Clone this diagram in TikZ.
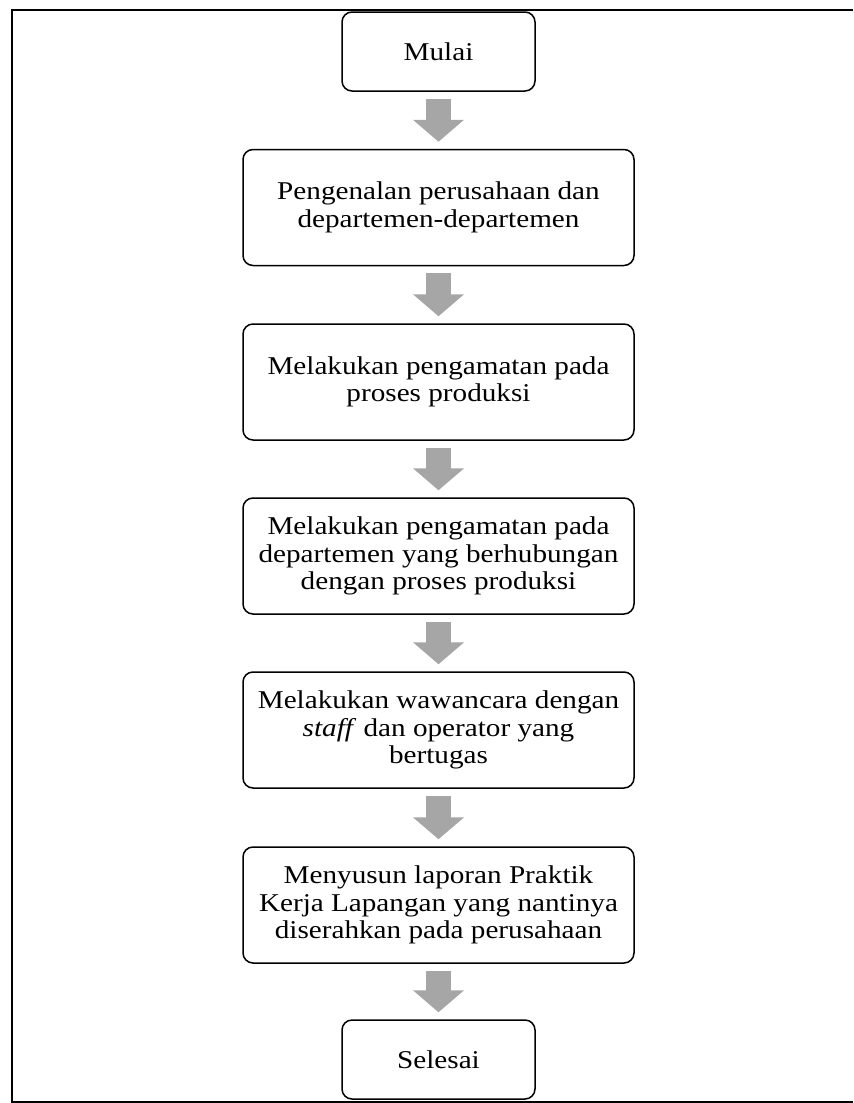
\documentclass[tikz,border=0pt]{standalone}
\usepackage{fontspec}
\setmainfont{Liberation Serif}[FakeStretch=1.14]
\usetikzlibrary{arrows.meta}
\definecolor{arrowgray}{RGB}{166,166,166}
\tikzset{
    mybox/.style = {rectangle, rounded corners=5pt, line width=0.75pt, draw=black, align=center, minimum width=96.5pt, minimum height=39.5pt, inner sep=2pt, font=\fontsize{12.8pt}{13.7pt}\selectfont},
    mybigbox/.style = {mybox, minimum width=195.5pt, minimum height=58pt},
    edgeg/.style = {-{Triangle[length=11pt,width=25pt]}, line width=12.5pt, draw=arrowgray, shorten <=3.5pt, shorten >=3.5pt},
    pageframe/.style = {line width=0.7pt, draw=black}
}

\begin{document}
\begin{tikzpicture}[x=0.5pt,y=-0.5pt]
\useasboundingbox (0,0) rectangle (853,1103);
\draw[pageframe] (853,10) -- (12,10) -- (12,1102) -- (853,1102);

\node[mybox] at (438.5, 51.5) (mulai) {Mulai};
\node[mybigbox] at (438.5, 207.5) (kenal) {Pengenalan perusahaan dan\\departemen-departemen};
\node[mybigbox] at (438.5, 382) (amati) {Melakukan pengamatan pada\\proses produksi};
\node[mybigbox] at (438.5, 556) (dept) {Melakukan pengamatan pada\\departemen yang berhubungan\\dengan proses produksi};
\node[mybigbox] at (438.5, 730) (wawancara) {Melakukan wawancara dengan\\\textit{staff} dan operator yang\\bertugas};
\node[mybigbox] at (438.5, 905) (laporan) {Menyusun laporan Praktik\\Kerja Lapangan yang nantinya\\diserahkan pada perusahaan};
\node[mybox] at (438.5, 1059.5) (selesai) {Selesai};
%
\draw[edgeg] (mulai) -- (kenal);
\draw[edgeg] (kenal) -- (amati);
\draw[edgeg] (amati) -- (dept);
\draw[edgeg] (dept) -- (wawancara);
\draw[edgeg] (wawancara) -- (laporan);
\draw[edgeg] (laporan) -- (selesai);

\end{tikzpicture}
\end{document}
